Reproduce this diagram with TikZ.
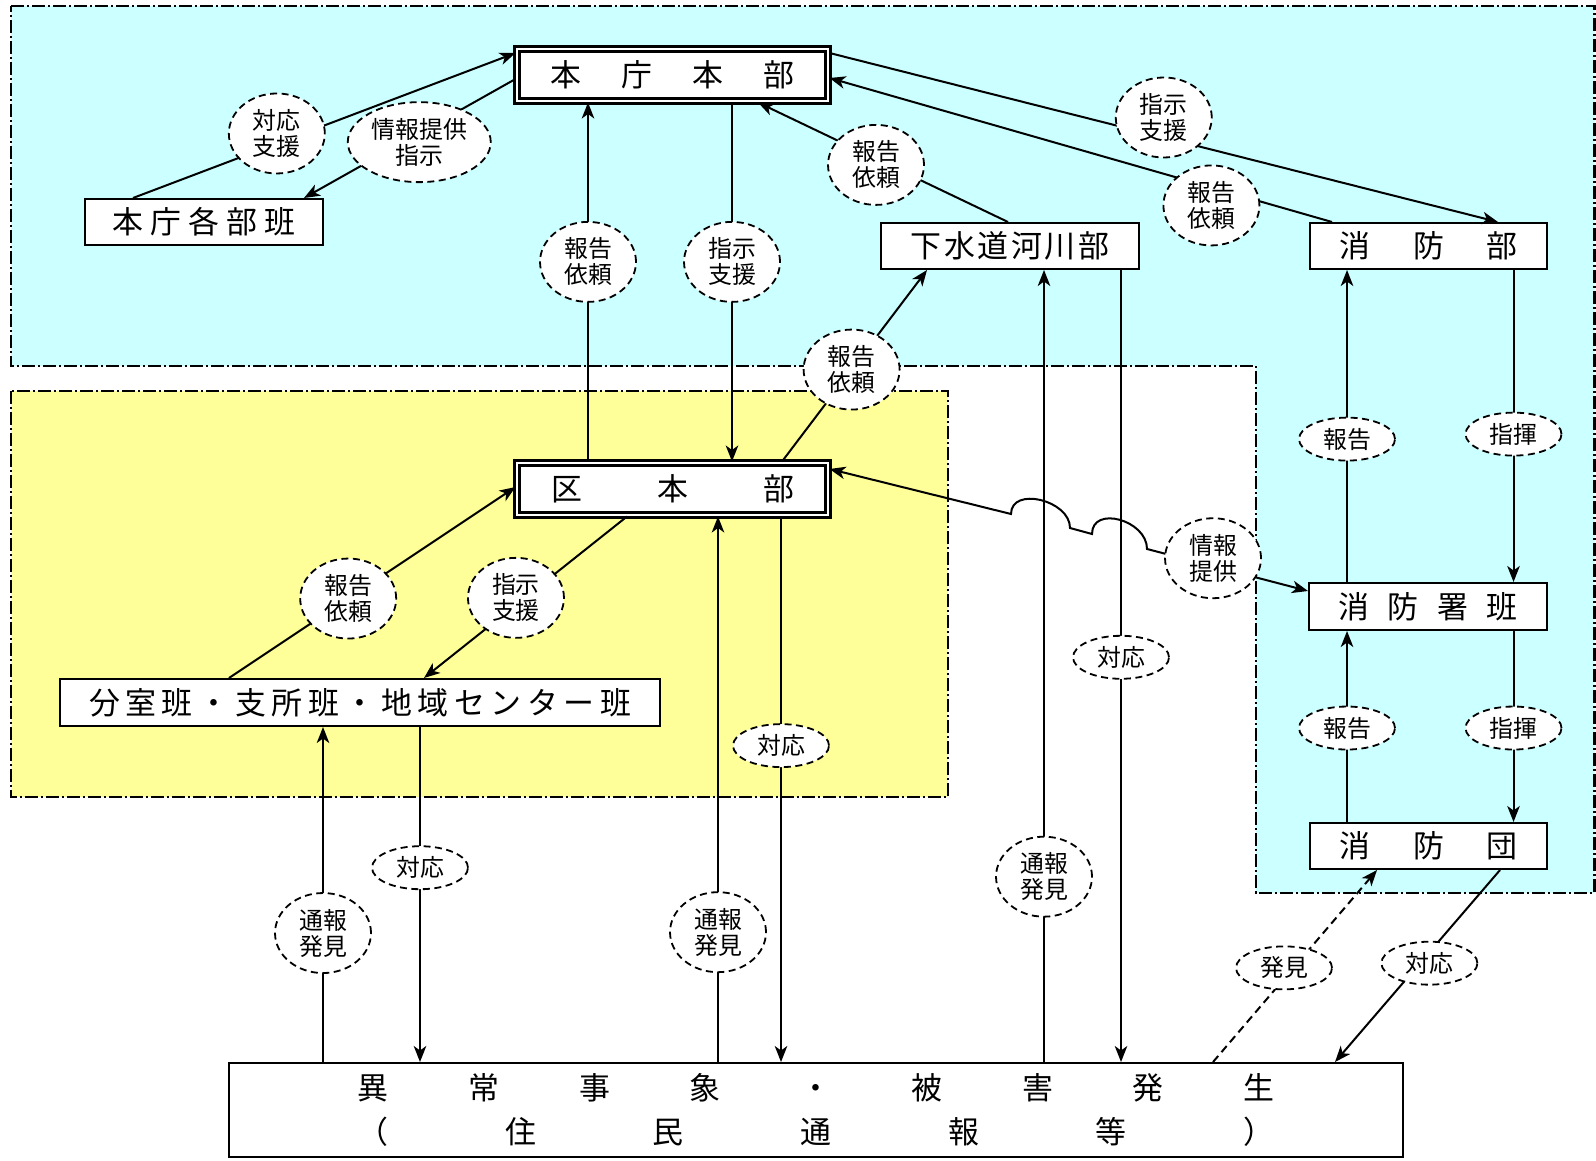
\documentclass[tikz,border=0pt]{standalone}
\usepackage{fontspec}
\setmainfont{Noto Sans CJK JP}
\usetikzlibrary{arrows.meta,shapes.geometric}
\definecolor{skyc}{RGB}{204,255,255}
\definecolor{lemon}{RGB}{255,255,153}

\begin{document}
\begin{tikzpicture}[x=0.1mm, y=-0.1mm, line width=0.2mm,
	>={Stealth[length=1.6mm,width=1.25mm,inset=0.45mm]},
	region/.style={line width=0.25mm, dash pattern=on 1.3mm off 0.3mm on 0.2mm off 0.3mm},
	box/.style={draw, fill=white, inner sep=0pt, minimum height=4.6mm, font=\fontsize{8.8}{10}\selectfont},
	dbl/.style={box, double, double distance=0.17mm, line width=0.3mm, minimum width=31.1mm, minimum height=5.2mm},
	lbl/.style={ellipse, draw, fill=white, line width=0.18mm, dash pattern=on 0.7mm off 0.45mm, inner sep=0pt, minimum width=9.6mm, minimum height=8mm, align=center, font=\fontsize{6.8}{7.4}\selectfont},
	lbls/.style={lbl, minimum height=4.3mm}]
				\useasboundingbox (0,0) rectangle (1596,1160);
				\draw[region, fill=skyc] (11,6) -- (1594.5,6) -- (1594.5,893) -- (1256,893) -- (1256,366) -- (11,366) -- cycle;
				\draw[region, fill=lemon] (11,391) rectangle (948,797);

				\node[dbl] (honcho) at (672.5,75) {\makebox[24.4mm]{本\hfill 庁\hfill 本\hfill 部}};
				\node[dbl] (ku) at (672.5,489) {\makebox[24.3mm]{区\hfill 本\hfill 部}};
				\node[box, minimum width=23.8mm] (kakubu) at (204,222) {\makebox[18.3mm]{本\hfill 庁\hfill 各\hfill 部\hfill 班}};
				\node[box, minimum width=25.8mm] (gesui) at (1010,246) {\makebox[19.9mm]{下\hfill 水\hfill 道\hfill 河\hfill 川\hfill 部}};
				\node[box, minimum width=23.7mm] (shobo) at (1428.5,246) {\makebox[17.8mm]{消\hfill 防\hfill 部}};
				\node[box, minimum width=60mm, minimum height=4.7mm] (bunshitsu) at (360,702.5) {\makebox[54.2mm]{分\hfill 室\hfill 班\hfill ・\hfill 支\hfill 所\hfill 班\hfill ・\hfill 地\hfill 域\hfill セ\hfill ン\hfill タ\hfill ー\hfill 班}};
				\node[box, minimum width=23.8mm, minimum height=4.7mm] (shobosho) at (1428,606.5) {\makebox[17.9mm]{消\hfill 防\hfill 署\hfill 班}};
				\node[box, minimum width=23.7mm] (shobodan) at (1428.5,846) {\makebox[17.8mm]{消\hfill 防\hfill 団}};
				\node[box, minimum width=117.4mm, minimum height=9.4mm, align=center, font=\fontsize{8.8}{12.7}\selectfont] (genba) at (816,1110) {\makebox[91.7mm]{異\hfill 常\hfill 事\hfill 象\hfill ・\hfill 被\hfill 害\hfill 発\hfill 生}\\\makebox[91.7mm]{（\hfill 住\hfill 民\hfill 通\hfill 報\hfill 等\hfill ）}};

				\draw[->] (133,0 |- kakubu.north) -- node[lbl, pos=.376, yshift=1mm] {対応\\支援} (honcho.west |- 0,53);
				\draw[->] (honcho.west |- 0,79) -- node[lbl, pos=.455, yshift=-0.9mm, minimum width=14.3mm] {情報提供\\指示} (304,0 |- kakubu.north);
				\draw[->] (588,0 |- ku.north) -- node[lbl, pos=.556] {報告\\依頼} (588,0 |- honcho.south);
				\draw[->] (732,0 |- honcho.south) -- node[lbl, pos=.444] {指示\\支援} (732,0 |- ku.north);
				\draw[->] (1008,0 |- gesui.north) -- node[lbl, pos=.528, yshift=-0.6mm] {報告\\依頼} (758,0 |- honcho.south);
				\draw[->] (honcho.east |- 0,53) -- node[lbl, pos=.5, yshift=2mm] {指示\\支援} (1498,0 |- shobo.north);
				\draw[->] (1332,0 |- shobo.north) -- node[lbl, pos=.24, yshift=-1.8mm] {報告\\依頼} (honcho.east |- 0,78);
				\draw[->] (782,0 |- ku.north) -- node[lbl, pos=.48] {報告\\依頼} (927,0 |- gesui.south);

				\draw[->] (229,0 |- bunshitsu.north) -- node[lbl, pos=.416] {報告\\依頼} (ku.west |- 0,487);
				\draw[->] (627,0 |- ku.south) -- node[lbl, pos=.547, yshift=0.7mm] {指示\\支援} (424,0 |- bunshitsu.north);

				\foreach \a/\b/\p/\q in {shobosho/shobo/.458/.526, shobodan/shobosho/.492/.508} {
					\draw[->] (1347,0 |- \a.north) -- node[lbls, pos=\p] {報告} (1347,0 |- \b.south);
					\draw[->] (1513.5,0 |- \b.south) -- node[lbls, pos=\q] {指揮} (1513.5,0 |- \a.north);
				}

				\foreach \x/\n/\p in {323/bunshitsu/.385, 718/ku/.238, 1044/gesui/.234}
				\draw[->] (\x,0 |- genba.north) -- node[lbl, pos=\p] {通報\\発見} (\x,0 |- \n.south);
				\foreach \x/\n/\p in {420/bunshitsu/.42, 781/ku/.42, 1121/gesui/.489}
				\draw[->] (\x,0 |- \n.south) -- node[lbls, pos=\p] {対応} (\x,0 |- genba.north);

				\draw[<->] (ku.east |- 0,469) -- (1011,514) .. controls (1011,486) and (1070,500) .. (1070,528) -- (1092,534) .. controls (1092,505) and (1147,520) .. (1147,549) -- node[lbl, pos=.41, yshift=.8mm] {情報\\提供} (shobosho.west |- 0,591);

				\draw[->, dash pattern=on 0.8mm off 0.5mm] (1213,0 |- genba.north) -- node[lbls, pos=.433, yshift=1.1mm] {発見} (1377,0 |- shobodan.south);
				\draw[->] (1500,0 |- shobodan.south) -- node[lbls, pos=.428, yshift=-1.1mm] {対応} (1335,0 |- genba.north);
\end{tikzpicture}
\end{document}
